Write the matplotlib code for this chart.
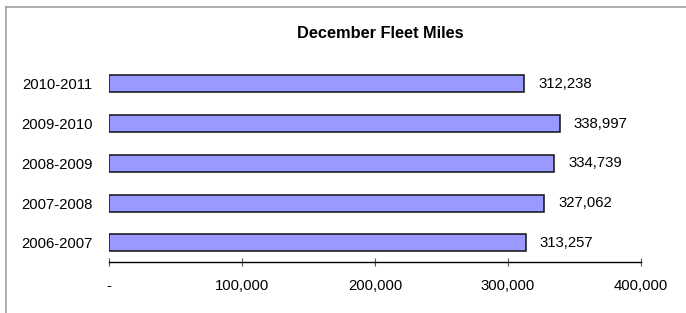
import matplotlib
matplotlib.use("Agg")
import matplotlib.pyplot as plt
from matplotlib.lines import Line2D

categories = ["2006-2007", "2007-2008", "2008-2009", "2009-2010", "2010-2011"]
values = [313257, 327062, 334739, 338997, 312238]
xticks = [0, 100000, 200000, 300000, 400000]
xtick_labels = ["-", "100,000", "200,000", "300,000", "400,000"]
title = "December Fleet Miles"

plt.rcParams['font.family'] = ['Liberation Sans', 'DejaVu Sans']

W, H = 686, 313
fig = plt.figure(figsize=(W / 100, H / 100), dpi=100)
ax = fig.add_axes([109.3 / W, 1 - 262.3 / H, (641 - 109.3) / W, (262.3 - 64) / H])

FS = 10.7
pos = list(range(len(categories)))
ax.barh(pos, values, height=0.43, color="#9999ff", edgecolor="#111111", linewidth=1.1)
for p, v in zip(pos, values):
    ax.text(v + 10500, p, f"{v:,}", va="center", ha="left", fontsize=FS)

ax.set_xlim(0, 400000)
ax.set_ylim(-0.49, 4.5)
ax.set_yticks(pos)
ax.set_yticklabels(categories, fontsize=FS)
ax.tick_params(axis="y", length=0, pad=12)
ax.set_xticks(xticks)
ax.set_xticklabels(xtick_labels, fontsize=FS)
ax.tick_params(axis="x", direction="inout", length=6, width=0.8, pad=9, color="#555555")
for s in ["top", "right", "left"]:
    ax.spines[s].set_visible(False)
ax.spines["bottom"].set_linewidth(1.0)

fig.text(380 / W, 1 - 33 / H, title, ha="center", va="center", fontsize=11.8, fontweight="bold")

# chart border (top and left visible)
fig.add_artist(Line2D([6 / W, 6 / W], [0, 1 - 7 / H], color="#a0a0a0", lw=1.2, transform=fig.transFigure))
fig.add_artist(Line2D([6 / W, 1], [1 - 7 / H, 1 - 7 / H], color="#a0a0a0", lw=1.2, transform=fig.transFigure))

fig.savefig("out.png", dpi=100)
